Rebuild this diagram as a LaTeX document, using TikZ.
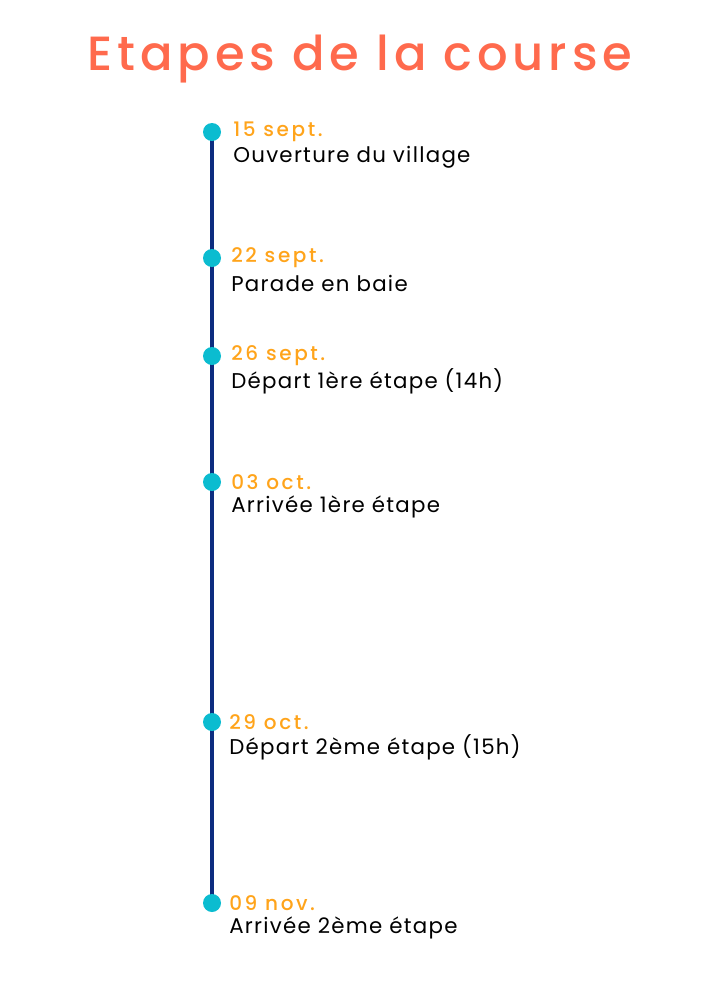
\documentclass[tikz,border=0pt]{standalone}
\usepackage{fontspec}
\setmainfont{Poppins}
\newfontfamily\titlefont{Poppins Medium}[LetterSpace=10]
\newfontfamily\datefont{Poppins Medium}[LetterSpace=13]
\newfontfamily\descfont{Poppins}[LetterSpace=6]
\definecolor{titlecol}{HTML}{FF6A4D}
\definecolor{datecol}{HTML}{FFA41B}
\definecolor{dotcol}{HTML}{0BBCD0}
\definecolor{linecol}{HTML}{0D2C7F}
\tikzset{
  px/.style={x=0.75pt,y=-0.75pt},
  dot/.style={circle,fill=dotcol,inner sep=0pt,minimum size=13.5pt},
  datelbl/.style={anchor=west,inner sep=0pt,text=datecol,font=\datefont\fontsize{15}{17}\selectfont},
  desclbl/.style={anchor=west,inner sep=0pt,text=black,font=\descfont\fontsize{16}{18}\selectfont},
  tline/.style={draw=linecol,line width=3.6pt}
}
\begin{document}
\begin{tikzpicture}[px]
\useasboundingbox (0,0) rectangle (720,989);
\node[text=titlecol,font=\titlefont\fontsize{36}{42}\selectfont] (title) at (360,59) {Etapes de la course};
\coordinate (p1) at (212,132);
\coordinate (p6) at (212,903);
\draw[tline] (p1) -- (p6);
\foreach \y/\xx/\d/\t/\n in {132/233/15 sept./Ouverture du village/a,
  258/231/22 sept./Parade en baie/b,
  356/231/26 sept./Départ 1ère étape (14h)/c,
  482/231/03 oct./Arrivée 1ère étape/d,
  722/229/29 oct./Départ 2ème étape (15h)/e,
  903/229/09 nov./Arrivée 2ème étape/f}{
  \node[dot] (dot\n) at (212,\y) {};
  \node[datelbl] (date\n) at (\xx,\y) {\d};
  \node[desclbl] (desc\n) at (\xx,\y+25) {\t};
}
\end{tikzpicture}
\end{document}
